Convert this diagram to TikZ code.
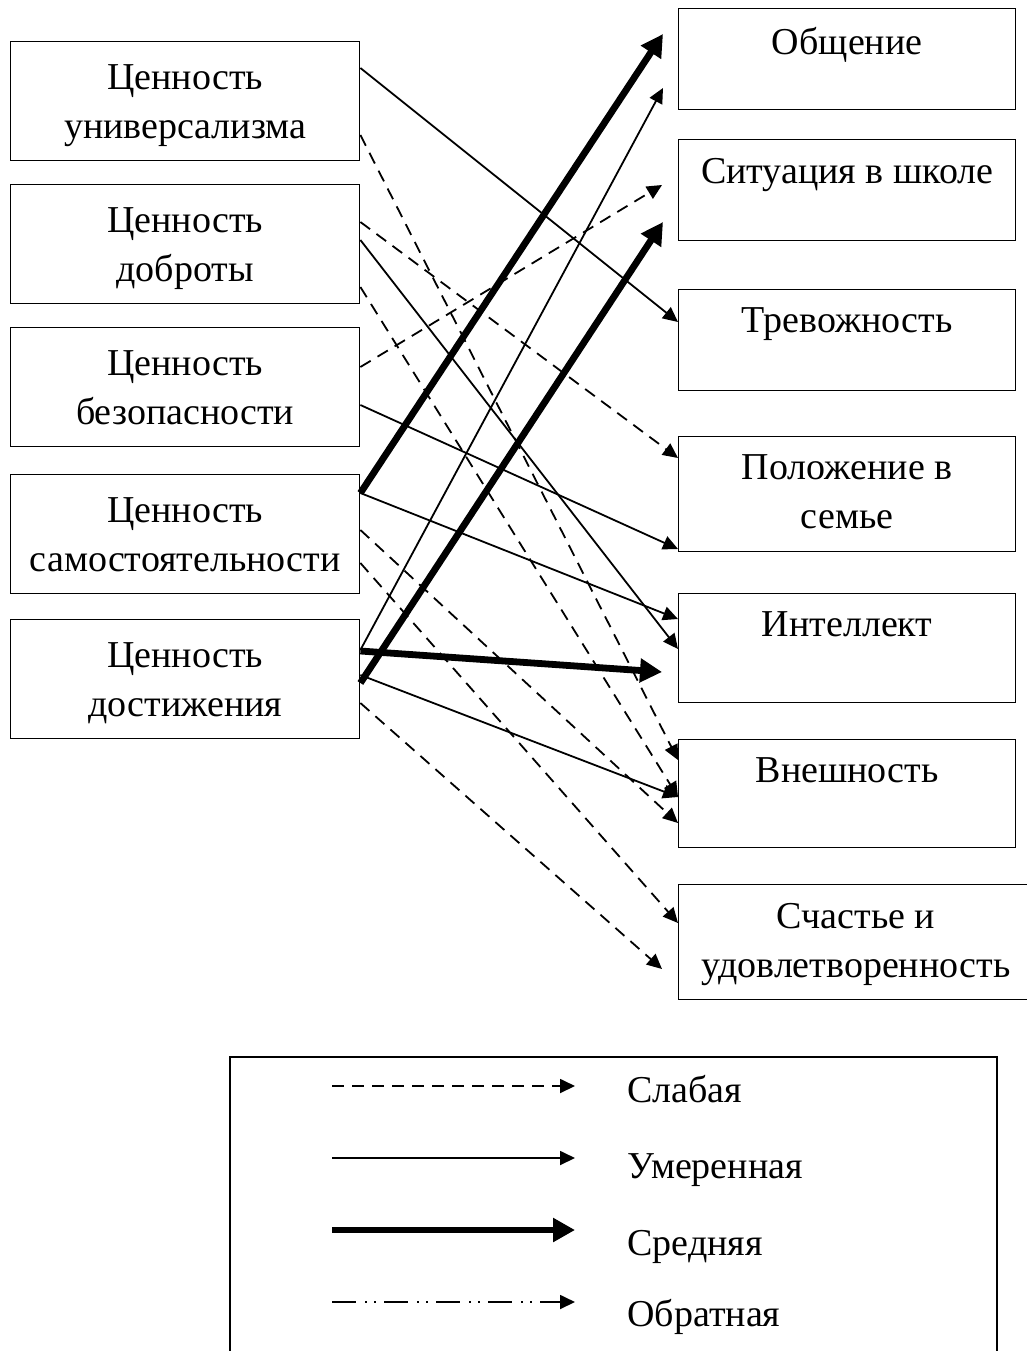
\documentclass[tikz,border=0pt]{standalone}
\usepackage{fontspec}
\setmainfont{Liberation Serif}
\usetikzlibrary{arrows.meta, calc}

\tikzset{
  lbox/.style={draw, line width=0.7pt, minimum width=174.5pt, minimum height=59.5pt, align=center, text depth=0pt, anchor=north west, inner sep=0pt},
  rbox/.style={draw, line width=0.7pt, minimum width=168.5pt, anchor=north west, inner sep=0pt},
  rtext/.style={anchor=north, align=center, yshift=-6pt},
  legtext/.style={anchor=base west, inner sep=0pt},
  weaklink/.style={line width=0.9pt, dash pattern=on 6pt off 4pt, -{Triangle[length=7.5pt,width=7pt]}},
  modlink/.style={line width=0.9pt, -{Triangle[length=7.5pt,width=7pt]}},
  stronglink/.style={line width=3.4pt, -{Triangle[length=11pt,width=11.5pt]}},
  backlink/.style={line width=0.9pt, dash pattern=on 12pt off 4.5pt on 1pt off 3.5pt on 1pt off 4pt, -{Triangle[length=7.5pt,width=7pt]}},
}

\begin{document}
\begin{tikzpicture}[x=0.5pt, y=-0.5pt, font=\fontsize{19}{24.5}\selectfont]
	\useasboundingbox (0,0) rectangle (1027,1351);
	\clip (0,0) rectangle (1027,1351);

	% Values on the left
	\node[lbox] (l1) at (10,41) {Ценность\\универсализма};
	\node[lbox] (l2) at (10,184) {Ценность\\доброты};
	\node[lbox] (l3) at (10,327) {Ценность\\безопасности};
	\node[lbox] (l4) at (10,474) {Ценность\\самостоятельности};
	\node[lbox] (l5) at (10,619) {Ценность\\достижения};

	% Self-assessment scales on the right
	\node[rbox, minimum height=50.5pt, label={[rtext]north:Общение}] (r1) at (678,8) {};
	\node[rbox, minimum height=50.5pt, label={[rtext]north:Ситуация в школе}] (r2) at (678,139) {};
	\node[rbox, minimum height=50.5pt, label={[rtext]north:Тревожность}] (r3) at (678,289) {};
	\node[rbox, minimum height=57.5pt, label={[rtext]north:Положение в\\семье}] (r4) at (678,436) {};
	\node[rbox, minimum height=54.5pt, label={[rtext]north:Интеллект}] (r5) at (678,593) {};
	\node[rbox, minimum height=54pt, label={[rtext]north:Внешность}] (r6) at (678,739) {};
	\node[rbox, minimum width=190pt, minimum height=57.5pt] (r7) at (678,884) {};
	\node[rtext] (r7text) at ($(r7.north west)+(178,0)$) {Счастье и\\удовлетворенность};

	% Links
	\draw[modlink] (l1.east |- 0,68) -- (r3.west |- 0,322);
	\draw[weaklink] (l1.east |- 0,135) -- (r6.west |- 0,760);
	\draw[weaklink] (l2.east |- 0,222) -- (r4.west |- 0,458);
	\draw[modlink] (l2.east |- 0,240) -- (r5.west |- 0,649);
	\draw[weaklink] (l2.east |- 0,287) -- (r6.west |- 0,797);
	\draw[weaklink] (l3.east |- 0,367) -- ($(r2.west |- 0,185)+(-16,0)$);
	\draw[modlink] (l3.east |- 0,405) -- (r4.west |- 0,549);
	\draw[stronglink] (l4.east |- 0,493) -- ($(r1.west |- 0,34)+(-15,0)$);
	\draw[modlink] (l4.east |- 0,493) -- (r5.west |- 0,619);
	\draw[weaklink] (l4.east |- 0,530) -- (r6.west |- 0,823);
	\draw[weaklink] (l4.east |- 0,563) -- (r7.west |- 0,923);
	\draw[modlink] (l5.east |- 0,650) -- ($(r1.west |- 0,88)+(-15,0)$);
	\draw[stronglink] (l5.east |- 0,683) -- ($(r2.west |- 0,222)+(-15,0)$);
	\draw[stronglink] (l5.east |- 0,651) -- ($(r5.west |- 0,672)+(-16,0)$);
	\draw[modlink] (l5.east |- 0,675) -- (r6.west |- 0,797);
	\draw[weaklink] (l5.east |- 0,703) -- ($(r7.west |- 0,969)+(-16,0)$);

	% Legend
	\draw[line width=0.7pt] (230,1057) rectangle (997,1400);
	\foreach \sty/\y/\base/\txt in {weaklink/1086/1102/Слабая, modlink/1158/1178/Умеренная, stronglink/1230/1255/Средняя, backlink/1302/1326/Обратная}{
		\draw[\sty] (332,\y) -- (575,\y);
		\node[legtext] (txt\sty) at (627,\base) {\txt};
	}
\end{tikzpicture}
\end{document}
